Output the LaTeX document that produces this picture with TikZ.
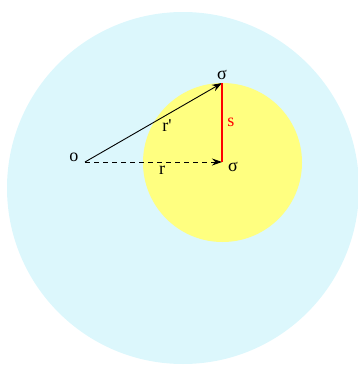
\documentclass[tikz,border=0pt]{standalone}
\usepackage{fontspec}
\setmainfont{Liberation Serif}
\usetikzlibrary{arrows.meta}
\definecolor{bigc}{RGB}{220,247,252}
\definecolor{smallc}{RGB}{255,255,128}
\definecolor{sred}{RGB}{255,0,0}
\begin{document}
\begin{tikzpicture}[x=1pt,y=-1pt,
  lbl/.style={inner sep=0pt,font=\fontsize{18}{18}\selectfont},
  vec/.style={-{Stealth[length=10pt,width=7pt]},line width=0.9pt}]
\useasboundingbox (0,0) rectangle (358,365);
\clip (0,0) rectangle (358,365);
\fill[bigc] (183,188) circle[radius=176];
\fill[smallc] (222.5,162.5) circle[radius=79.5];
\coordinate (o) at (85,162);
\coordinate (s1) at (222,83);
\coordinate (s2) at (222,162);
\draw[vec] (o) -- (s1);
\draw[vec,dashed,dash pattern=on 5pt off 4pt] (o) -- (s2);
\draw[sred,line width=1.8pt] (s1) -- (s2);
\node[lbl] (lo) at (74,157) {o};
\node[lbl] (ls1) at (222,75) {σ};
\node[lbl] (ls2) at (233,167) {σ};
\node[lbl] (lrp) at (167,126) {r\textquotesingle};
\node[lbl] (lr) at (162,170) {r};
\node[lbl,text=sred] (ls) at (231,122) {s};
\end{tikzpicture}
\end{document}
